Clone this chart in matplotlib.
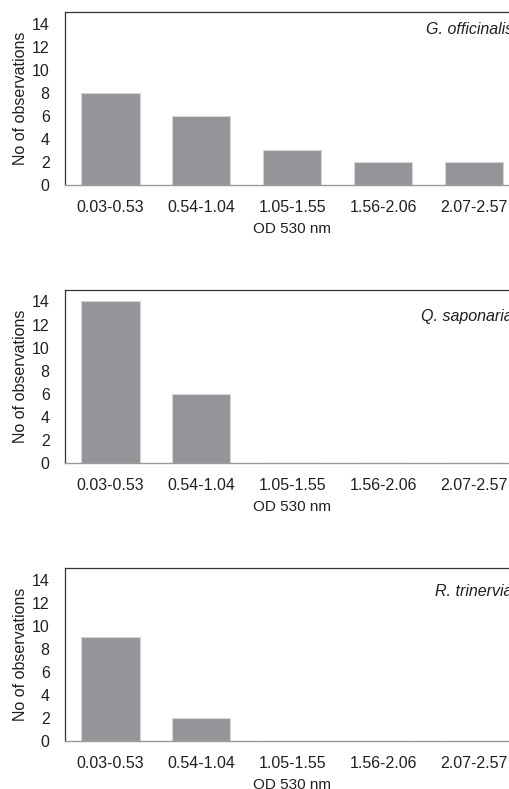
import matplotlib.pyplot as plt
import numpy as np

plt.rcParams['font.family'] = ['Liberation Sans', 'DejaVu Sans']

categories = ['0.03-0.53', '0.54-1.04', '1.05-1.55', '1.56-2.06', '2.07-2.57']
species = ['G. officinalis', 'Q. saponaria', 'R. trinervia']
g_off = [8, 6, 3, 2, 2]
q_sap = [14, 6, 0, 0, 0]
r_tri = [9, 2, 0, 0, 0]
counts = [g_off, q_sap, r_tri]
yticks = [0, 2, 4, 6, 8, 10, 12, 14]

fig = plt.figure(figsize=(5.09, 7.89), dpi=100)
bottoms = [0.7655, 0.4132, 0.0608]
label_y = [13.5, 12.7, 13.0]
x = np.arange(len(categories))

for b, vals, name, ly in zip(bottoms, counts, species, label_y):
    ax = fig.add_axes([0.1277, b, 0.893, 0.2193])
    ax.bar(x, vals, width=0.64, color='#939598', edgecolor='#d4d4d4', linewidth=0.8)
    ax.set_xlim(-0.5, 4.5)
    ax.set_ylim(0, 15)
    ax.set_xticks(x)
    ax.set_xticklabels(categories)
    ax.set_yticks(yticks)
    ax.tick_params(axis='both', length=0, labelsize=11.5, colors='#231f20')
    ax.tick_params(axis='x', pad=10.5)
    ax.tick_params(axis='y', pad=11)
    for s in ['top', 'left']:
        ax.spines[s].set_color('#333333')
        ax.spines[s].set_linewidth(0.9)
    ax.spines['bottom'].set_color('#9a9a9a')
    ax.spines['bottom'].set_linewidth(1.0)
    ax.spines['right'].set_visible(False)
    ax.set_xlabel('OD 530 nm', fontsize=11, color='#231f20', labelpad=5)
    ax.set_ylabel('No of observations', fontsize=11.5, color='#231f20', labelpad=3)
    ax.text(0.985, ly, name, transform=ax.get_yaxis_transform(), ha='right', va='center',
            fontsize=11.5, style='italic', color='#231f20')

fig.savefig('out.png', dpi=100)
